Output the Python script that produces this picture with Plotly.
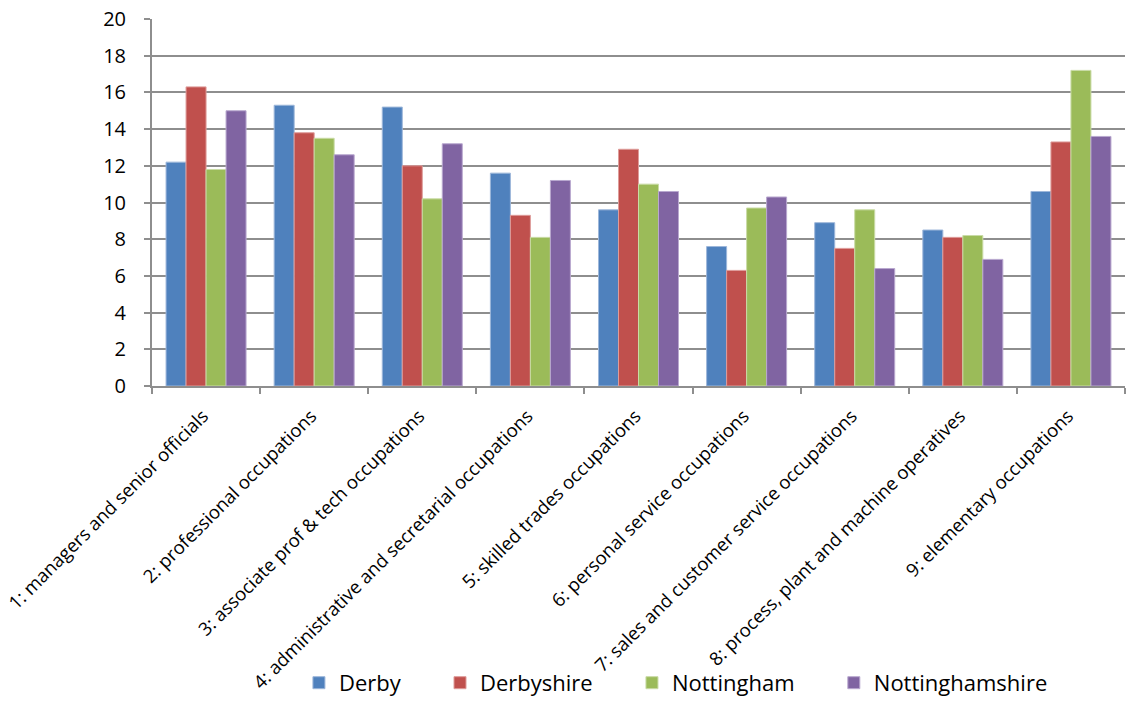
import plotly.graph_objects as go

categories = [
    "1: managers and senior officials",
    "2: professional occupations",
    "3: associate prof & tech occupations",
    "4: administrative and secretarial occupations",
    "5: skilled trades occupations",
    "6: personal service occupations",
    "7: sales and customer service occupations",
    "8: process, plant and machine operatives",
    "9: elementary occupations",
]
derby = [12.2, 15.3, 15.2, 11.6, 9.6, 7.6, 8.9, 8.5, 10.6]
derbyshire = [16.3, 13.8, 12.0, 9.3, 12.9, 6.3, 7.5, 8.1, 13.3]
nottingham = [11.8, 13.5, 10.2, 8.1, 11.0, 9.7, 9.6, 8.2, 17.2]
nottinghamshire = [15.0, 12.6, 13.2, 11.2, 10.6, 10.3, 6.4, 6.9, 13.6]
y_ticks = [0, 2, 4, 6, 8, 10, 12, 14, 16, 18, 20]

series = [
    ("Derby", derby, "#4F81BD", "#9DB7DA"),
    ("Derbyshire", derbyshire, "#C0504D", "#DE9C9A"),
    ("Nottingham", nottingham, "#9BBB59", "#C9DBA6"),
    ("Nottinghamshire", nottinghamshire, "#8064A2", "#B9A8CF"),
]

pad = "\u00a0" * 6
fig = go.Figure()
for name, vals, col, edge in series:
    fig.add_trace(go.Bar(
        name=name + pad, x=categories, y=vals,
        marker=dict(color=col, line=dict(color=edge, width=1)),
    ))

font_family = "Open Sans, Carlito, Calibri, sans-serif"
grid_col = "#8E8E8E"
fig.update_layout(
    width=1134, height=702,
    margin=dict(l=152, r=9, t=19, b=316, autoexpand=False),
    paper_bgcolor="white", plot_bgcolor="white",
    barmode="group", bargap=0.26, bargroupgap=0,
    font=dict(family=font_family, color="black"),
    showlegend=True,
    legend=dict(
        orientation="h", x=0.151, xanchor="left", y=-0.809, yanchor="middle",
        font=dict(size=22, family=font_family), traceorder="normal",
        bgcolor="rgba(0,0,0,0)",
    ),
)
fig.update_xaxes(
    type="category", tickangle=-45, tickfont=dict(size=18.5, family=font_family),
    showline=True, linecolor=grid_col, linewidth=2,
    ticks="outside", tickson="boundaries", ticklen=6, tickcolor=grid_col, tickwidth=2,
    showgrid=False, range=[-0.5, 8.5], automargin=False,
    ticklabelstandoff=10, ticklabelshift=-3,
)
fig.update_yaxes(
    range=[0, 20], tickvals=y_ticks, tickfont=dict(size=20, family=font_family),
    showline=True, linecolor=grid_col, linewidth=2,
    ticks="outside", ticklen=6, tickcolor=grid_col, tickwidth=2,
    showgrid=True, gridcolor=grid_col, gridwidth=2,
    zeroline=False, ticklabelstandoff=14, automargin=False,
)

fig.write_html("out.html")
